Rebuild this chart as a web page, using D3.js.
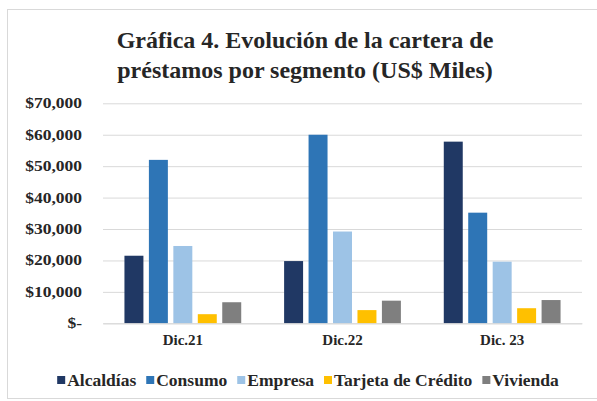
<!DOCTYPE html>
<html>
<head>
<meta charset="utf-8">
<script src="https://cdn.jsdelivr.net/npm/d3@7"></script>
<style>
  body { margin: 0; background: #fff; }
</style>
</head>
<body>
<svg width="597" height="401"></svg>
<script>
var svg = d3.select('svg');
var serif = '"Liberation Serif", "Times New Roman", serif';

// data
var periods = ['Dic.21', 'Dic.22', 'Dic. 23'];
var segments = ['Alcaldías', 'Consumo', 'Empresa', 'Tarjeta de Crédito', 'Vivienda'];
var alcaldias = [21500, 19800, 57800];
var consumo = [52000, 60000, 35200];
var empresa = [24600, 29200, 19600];
var tarjeta = [2900, 4200, 4800];
var vivienda = [6700, 7200, 7400];
var yTicks = [0, 10000, 20000, 30000, 40000, 50000, 60000, 70000];
var colors = ['#203864', '#2e75b6', '#9dc3e6', '#ffc000', '#7f7f7f'];

var seriesValues = [alcaldias, consumo, empresa, tarjeta, vivienda];
var rows = periods.map(function(p, i) {
    return {period: p, values: segments.map(function(s, j) { return {seg: s, value: seriesValues[j][i]}; })};
});

// chart frame
svg.append('rect')
    .attr('x', 7.5).attr('y', 9.5)
    .attr('width', 600).attr('height', 389)
    .attr('fill', 'none')
    .attr('stroke', '#d9d9d9');

var plot = {l: 103, r: 582, t: 103.3, b: 323.3};

var x = d3.scaleBand()
    .domain(periods)
    .range([plot.l, plot.r]);

var xInner = d3.scaleBand()
    .domain(segments)
    .range([0, x.bandwidth()])
    .paddingInner(0.224)
    .paddingOuter(0.877);

var y = d3.scaleLinear()
    .domain([0, 70000])
    .range([plot.b, plot.t]);

var color = d3.scaleOrdinal().domain(segments).range(colors);

function serifText(sel, size) {
    sel.attr('font-family', serif)
        .attr('font-weight', 'bold')
        .attr('font-size', size)
        .attr('fill', '#262626');
}

// title
var title = svg.append('text')
    .attr('text-anchor', 'middle')
    .call(serifText, 24);
title.append('tspan').attr('x', 305).attr('y', 48).text('Gráfica 4. Evolución de la cartera de');
title.append('tspan').attr('x', 305).attr('y', 78).text('préstamos por segmento (US$ Miles)');

// gridlines
svg.append('g')
    .attr('class', 'y-grid')
    .attr('transform', 'translate(' + plot.l + ',0)')
    .call(d3.axisLeft(y).tickValues(yTicks).tickSize(-(plot.r - plot.l)).tickFormat(''))
    .call(function(g) {
        g.select('.domain').remove();
        g.selectAll('line').attr('stroke', '#d9d9d9');
    });

// y axis labels (the reference glyphs are a little wide, so stretch them)
var fmt = d3.format(',');
var stretch = 1.25;
svg.append('g')
    .attr('class', 'y axis')
    .attr('transform', 'translate(' + plot.l + ',0)')
    .call(d3.axisLeft(y).tickValues(yTicks).tickSize(0).tickPadding(21 / stretch)
        .tickFormat(function(d) { return d === 0 ? '$-' : '$' + fmt(d); }))
    .call(function(g) {
        g.attr('font-family', serif);
        g.select('.domain').remove();
        g.selectAll('text').call(serifText, 14).attr('transform', 'scale(' + stretch + ',1)');
    });

// bars
var groups = svg.selectAll('.group')
    .data(rows)
    .enter()
    .append('g')
    .attr('class', 'group')
    .attr('transform', function(d) { return 'translate(' + x(d.period) + ',0)'; });

groups.selectAll('rect')
    .data(function(d) { return d.values; })
    .enter()
    .append('rect')
    .attr('x', function(d) { return xInner(d.seg); })
    .attr('y', function(d) { return y(d.value); })
    .attr('width', xInner.bandwidth())
    .attr('height', function(d) { return y(0) - y(d.value); })
    .attr('fill', function(d) { return color(d.seg); });

// x axis
svg.append('g')
    .attr('class', 'x axis')
    .attr('transform', 'translate(0,' + plot.b + ')')
    .call(d3.axisBottom(x).tickSize(0).tickPadding(11))
    .call(function(g) {
        g.attr('font-family', serif);
        g.select('.domain').attr('stroke', '#d9d9d9');
        g.selectAll('text').call(serifText, 15);
    });

// legend
var legend = svg.append('g').attr('class', 'legend');
var lx = 0;
segments.forEach(function(s) {
    var item = legend.append('g').attr('transform', 'translate(' + lx + ',0)');
    item.append('rect').attr('x', 0).attr('y', -10).attr('width', 8).attr('height', 8).attr('fill', color(s));
    var t = item.append('text').attr('x', 10).attr('y', 0).call(serifText, 17.5).text(s);
    lx += 10 + t.node().getComputedTextLength() + 10;
});
lx -= 10;
legend.attr('transform', 'translate(' + (308 - lx / 2) + ',386)');
</script>
</body>
</html>
